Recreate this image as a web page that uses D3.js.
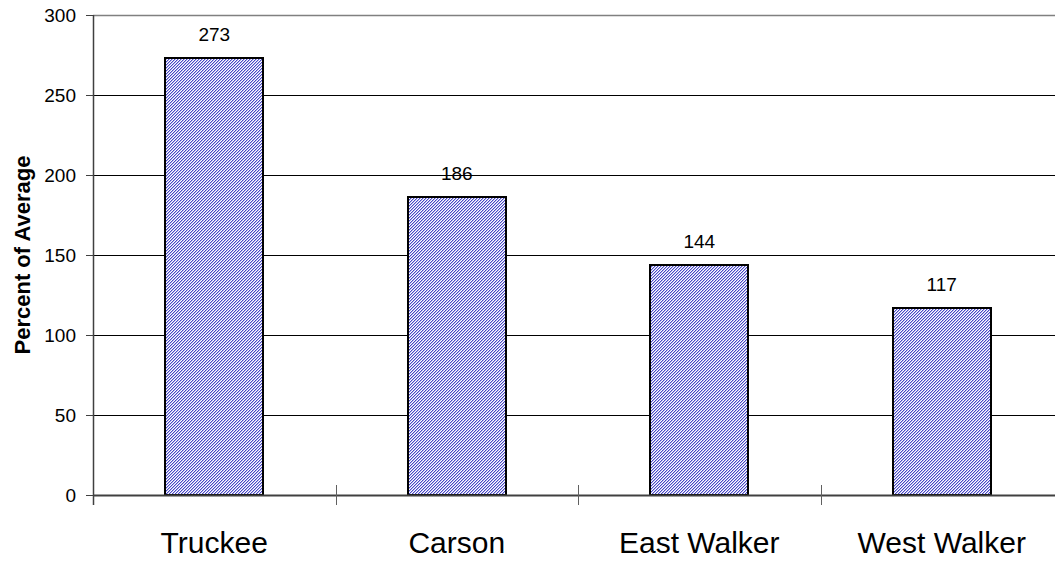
<!DOCTYPE html>
<html>
<head>
<meta charset="utf-8">
<script src="https://cdn.jsdelivr.net/npm/d3@7"></script>
<style>
  html, body { margin: 0; padding: 0; background: #fff; overflow: hidden; }
  svg { display: block; font-family: "Liberation Sans", Arial, sans-serif; }
</style>
</head>
<body>
<svg id="chart" width="1055" height="562"></svg>
<script>
// Basin snowpack, percent of average
const basins = ["Truckee", "Carson", "East Walker", "West Walker"];
const percentOfAverage = [273, 186, 144, 117];
const yTicks = [0, 50, 100, 150, 200, 250, 300];

const svg = d3.select("#chart");
const W = 1055, H = 562;
// the plot area runs a little past the right edge of the canvas
const margin = { top: 15, right: -8, bottom: 67, left: 93 };
const innerW = W - margin.left - margin.right;
const innerH = H - margin.top - margin.bottom;

// Fine diagonal hatch fill for the bars (pixel tile)
const defs = svg.append("defs");
const pat = defs.append("pattern")
  .attr("id", "hatch")
  .attr("patternUnits", "userSpaceOnUse")
  .attr("width", 3).attr("height", 3);
pat.append("rect").attr("width", 3).attr("height", 3).attr("fill", "#ffffff");
[[0,2],[1,1],[2,0]].forEach(([px, py]) => {
  pat.append("rect").attr("x", px).attr("y", py).attr("width", 1).attr("height", 1)
    .attr("fill", "#4848c4");
});
[[1,2],[2,1],[0,0]].forEach(([px, py]) => {
  pat.append("rect").attr("x", px).attr("y", py).attr("width", 1).attr("height", 1)
    .attr("fill", "#b4b4ec");
});

const g = svg.append("g").attr("transform", `translate(${margin.left},${margin.top})`);

const x = d3.scaleBand().domain(basins).range([0, innerW]).paddingInner(0.596).paddingOuter(0.298);
const xb = d3.scaleBand().domain(basins).range([0, innerW]);
const y = d3.scaleLinear().domain([0, 300]).range([innerH, 0]);

// Horizontal gridlines
g.append("g").selectAll("line")
  .data(yTicks.filter(d => d > 0))
  .join("line")
  .attr("x1", 0).attr("x2", innerW)
  .attr("y1", d => Math.round(y(d)) + 0.5).attr("y2", d => Math.round(y(d)) + 0.5)
  .attr("stroke", d => d === 300 ? "#808080" : "#000")
  .attr("stroke-width", d => d === 300 ? 1.5 : 1);

// Bars
g.append("g").selectAll("rect")
  .data(basins)
  .join("rect")
  .attr("x", d => Math.round(x(d)))
  .attr("y", (d, i) => Math.round(y(percentOfAverage[i])))
  .attr("width", Math.round(x.bandwidth()))
  .attr("height", (d, i) => innerH - Math.round(y(percentOfAverage[i])))
  .attr("fill", "url(#hatch)")
  .attr("stroke", "#000")
  .attr("stroke-width", 2);

// Value labels
g.append("g").selectAll("text")
  .data(basins)
  .join("text")
  .attr("x", d => x(d) + x.bandwidth() / 2)
  .attr("y", (d, i) => y(percentOfAverage[i]) - 17)
  .attr("text-anchor", "middle")
  .attr("font-size", 19)
  .attr("fill", "#000")
  .text((d, i) => percentOfAverage[i]);

// Y axis
const yAxis = g.append("g")
  .call(d3.axisLeft(y).tickValues(yTicks).tickSize(7).tickPadding(10));
yAxis.select(".domain").attr("stroke", "#404040").attr("stroke-width", 1.5)
  .attr("d", `M0.5,0V${innerH + 10}`);
yAxis.selectAll(".tick line").attr("stroke", "#404040");
yAxis.selectAll(".tick text").attr("font-size", 19).attr("fill", "#000")
  .attr("font-family", "Liberation Sans, Arial, sans-serif");

// X axis with tick marks between categories
const xAxis = g.append("g").attr("transform", `translate(0,${innerH})`);
xAxis.append("line")
  .attr("x1", 0).attr("x2", innerW)
  .attr("y1", 0.5).attr("y2", 0.5)
  .attr("stroke", "#404040").attr("stroke-width", 2);
const sepTicks = basins.slice(1).map(d => xb(d));
xAxis.selectAll("line.sep")
  .data(sepTicks)
  .join("line")
  .attr("class", "sep")
  .attr("x1", d => Math.round(d) + 0.5).attr("x2", d => Math.round(d) + 0.5)
  .attr("y1", -10).attr("y2", 10)
  .attr("stroke", "#606060").attr("stroke-width", 1);
xAxis.selectAll("text")
  .data(basins)
  .join("text")
  .attr("x", d => xb(d) + xb.bandwidth() / 2)
  .attr("y", 58)
  .attr("text-anchor", "middle")
  .attr("font-size", 30)
  .attr("fill", "#000")
  .text(d => d);

// Y axis title
svg.append("text")
  .attr("transform", `translate(30,${margin.top + innerH / 2}) rotate(-90)`)
  .attr("text-anchor", "middle")
  .attr("font-size", 22)
  .attr("font-weight", "bold")
  .attr("fill", "#000")
  .text("Percent of Average");
</script>
</body>
</html>
